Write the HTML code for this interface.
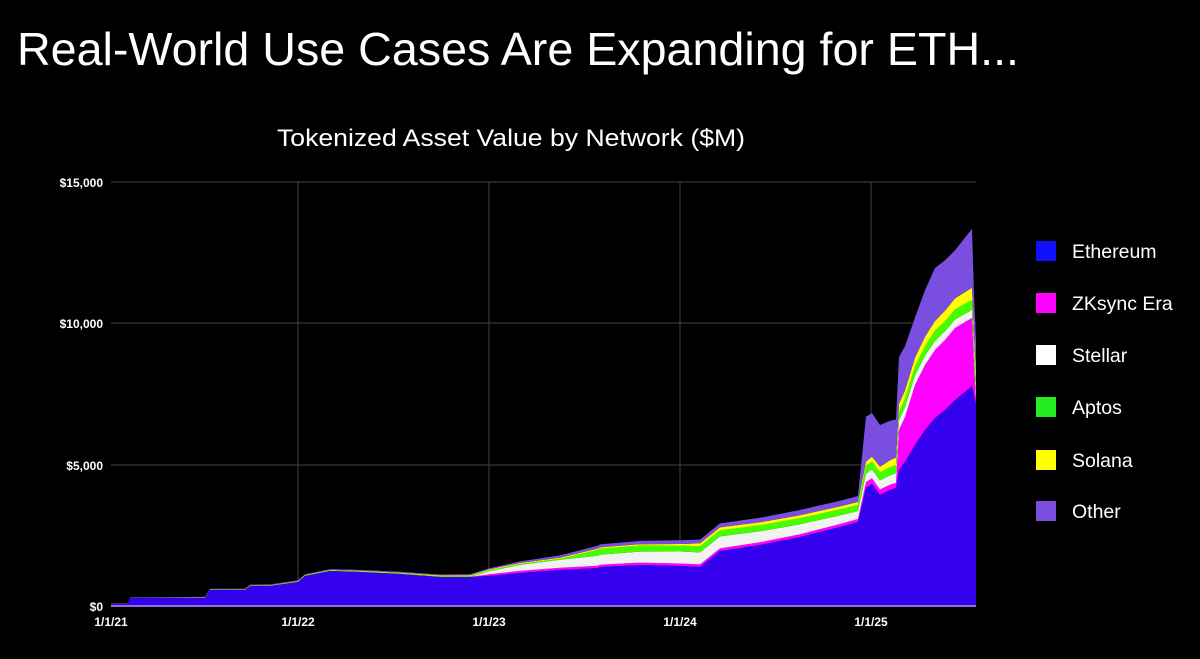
<!DOCTYPE html>
<html><head><meta charset="utf-8"><style>
html,body{margin:0;padding:0;background:#000;width:1200px;height:659px;overflow:hidden;font-family:"Liberation Sans",sans-serif;color:#fff}
</style></head><body>
<svg id="s" width="1200" height="659" xmlns="http://www.w3.org/2000/svg" style="position:absolute;left:0;top:0">
<text x="17" y="65" font-size="46" fill="#fff" textLength="1002" lengthAdjust="spacingAndGlyphs" font-family="Liberation Sans,sans-serif">Real-World Use Cases Are Expanding for ETH...</text>
<text x="277" y="146" font-size="24" fill="#fff" textLength="468" lengthAdjust="spacingAndGlyphs" font-family="Liberation Sans,sans-serif">Tokenized Asset Value by Network ($M)</text>
<g stroke="#444" stroke-width="1">
<line x1="111" y1="182" x2="976" y2="182"/><line x1="111" y1="323" x2="976" y2="323"/><line x1="111" y1="465" x2="976" y2="465"/>
<line x1="298" y1="182" x2="298" y2="606"/><line x1="489" y1="182" x2="489" y2="606"/><line x1="680" y1="182" x2="680" y2="606"/><line x1="871" y1="182" x2="871" y2="606"/>
</g>
<g id="areas"></g>
<line x1="111" y1="606" x2="976" y2="606" stroke="#8a70d0" stroke-width="2"/>
<g font-size="12" font-weight="bold" fill="#fff" text-anchor="end" font-family="Liberation Sans,sans-serif">
<text x="103" y="187">$15,000</text><text x="103" y="328">$10,000</text><text x="103" y="470">$5,000</text><text x="103" y="611">$0</text>
</g>
<g font-size="12" font-weight="bold" fill="#fff" text-anchor="middle" font-family="Liberation Sans,sans-serif">
<text x="111" y="626">1/1/21</text><text x="298" y="626">1/1/22</text><text x="489" y="626">1/1/23</text><text x="680" y="626">1/1/24</text><text x="871" y="626">1/1/25</text>
</g>
<g font-size="19.5" fill="#fff" font-family="Liberation Sans,sans-serif">
<rect x="1036" y="241" width="20" height="20" fill="#1010ff"/><text x="1072" y="258">Ethereum</text>
<rect x="1036" y="293" width="20" height="20" fill="#ff00ff"/><text x="1072" y="310">ZKsync Era</text>
<rect x="1036" y="345" width="20" height="20" fill="#ffffff"/><text x="1072" y="362">Stellar</text>
<rect x="1036" y="397" width="20" height="20" fill="#22ee22"/><text x="1072" y="414">Aptos</text>
<rect x="1036" y="450" width="20" height="20" fill="#ffff00"/><text x="1072" y="467">Solana</text>
<rect x="1036" y="501" width="20" height="20" fill="#7a4fe0"/><text x="1072" y="518">Other</text>
</g>
</svg>
<script>
var X=[111,128,130,155,205,210,245,250,270,298,305,330,360,400,440,470,489,520,560,598,600,640,680,700,720,760,800,840,858,866,872,880,890,896,899,905,915,925,935,945,955,965,972,974,976];
var B=[604,604,598,598,598,590,590,586,586,582,576,571,572,574,577,577,576,573,570,568,567,565,566,567,551,545,537,527,522,488,484,495,490,488,470,462,445,430,418,410,400,392,386,395,405];
function f(pts){return X.map(function(x){var v=0;for(var i=0;i<pts.length;i++){if(x>=pts[i][0])v=pts[i][1];}
 for(var i=0;i<pts.length-1;i++){if(x>=pts[i][0]&&x<=pts[i+1][0]){var t=(x-pts[i][0])/(pts[i+1][0]-pts[i][0]||1);return pts[i][1]+t*(pts[i+1][1]-pts[i][1]);}}return v;});}
var M=f([[111,0],[480,0],[490,2],[858,3],[866,6],[896,5],[899,40],[905,45],[915,60],[925,65],[935,68],[945,70],[955,72],[965,70],[972,68],[974,30],[976,5]]);
var W=f([[111,0],[470,0],[489,3],[520,6],[560,8],[600,10],[680,12],[720,12],[800,10],[858,8],[899,10],[976,8]]);
var G=f([[111,0],[300,0.5],[597,1],[598,6],[858,6],[866,8],[899,8],[935,10],[976,10]]);
var Y=f([[111,0],[300,0.5],[680,1.5],[700,3],[858,3],[899,8],[972,12],[976,12]]);
var P=f([[111,0.5],[489,1],[600,3],[720,4],[858,6],[866,45],[896,38],[899,47],[915,40],[935,53],[955,48],[972,59],[974,40],[976,30]]);
var layers=[[M,"#ff00ff"],[W,"#f2f2f2"],[G,"#44ff00"],[Y,"#ffff00"],[P,"#7a4fe0"]];
var g=document.getElementById("areas"),ns="http://www.w3.org/2000/svg";
function poly(top,bot,col){var p=document.createElementNS(ns,"polygon");var s=[];
for(var i=0;i<X.length;i++)s.push(X[i]+","+top[i].toFixed(1));
for(var i=X.length-1;i>=0;i--)s.push(X[i]+","+bot[i].toFixed(1));
p.setAttribute("points",s.join(" "));p.setAttribute("fill",col);return p;}
var base=X.map(function(){return 606;});
g.appendChild(poly(B,base,"#3500ee"));
var prev=B.slice();var els=[];
layers.forEach(function(l){var nt=prev.map(function(v,i){return v-l[0][i];});els.push(poly(nt,prev,l[1]));prev=nt;});
els.reverse().forEach(function(e){g.insertBefore(e,g.firstChild);});
</script>
</body></html>
